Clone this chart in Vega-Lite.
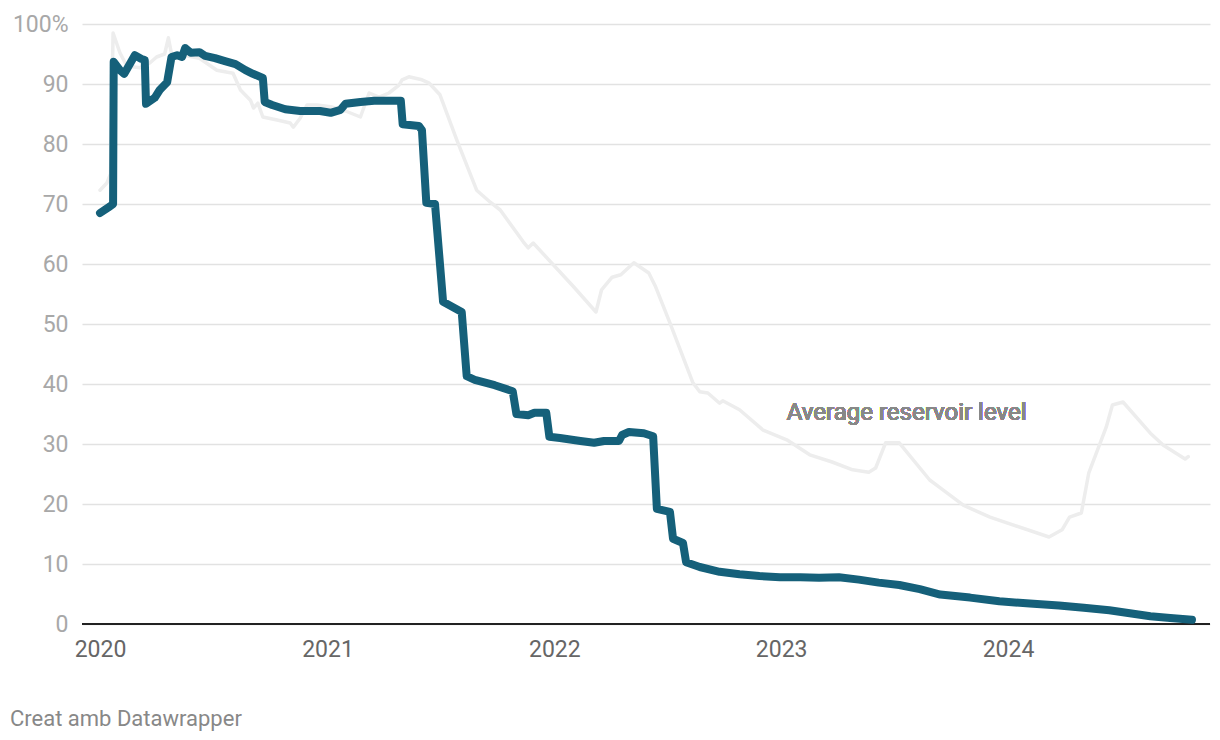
{
  "$schema": "https://vega.github.io/schema/vega-lite/v6.json",
  "width": 1128,
  "height": 600,
  "autosize": "none",
  "padding": {"left": 82, "top": 24, "right": 10, "bottom": 116},
  "background": "white",
  "config": {
    "font": "Roboto",
    "view": {"stroke": null},
    "axis": {"labelFont": "Roboto"}
  },
  "title": {
    "text": "Creat amb Datawrapper",
    "orient": "bottom",
    "anchor": "start",
    "frame": "group",
    "dx": -72,
    "offset": 48,
    "fontSize": 22,
    "fontWeight": "normal",
    "color": "#888888",
    "font": "Roboto"
  },
  "datasets": {
    "levels": [
      {"date": "2020-01-01", "value": 68.5, "series": "Reservoir"},
      {"date": "2020-01-17", "value": 69.6, "series": "Reservoir"},
      {"date": "2020-01-22", "value": 70.0, "series": "Reservoir"},
      {"date": "2020-01-23", "value": 93.7, "series": "Reservoir"},
      {"date": "2020-02-02", "value": 92.3, "series": "Reservoir"},
      {"date": "2020-02-09", "value": 91.7, "series": "Reservoir"},
      {"date": "2020-02-26", "value": 94.8, "series": "Reservoir"},
      {"date": "2020-03-07", "value": 94.2, "series": "Reservoir"},
      {"date": "2020-03-13", "value": 94.0, "series": "Reservoir"},
      {"date": "2020-03-15", "value": 86.7, "series": "Reservoir"},
      {"date": "2020-03-29", "value": 87.7, "series": "Reservoir"},
      {"date": "2020-04-06", "value": 89.0, "series": "Reservoir"},
      {"date": "2020-04-18", "value": 90.3, "series": "Reservoir"},
      {"date": "2020-04-25", "value": 94.5, "series": "Reservoir"},
      {"date": "2020-05-04", "value": 94.8, "series": "Reservoir"},
      {"date": "2020-05-12", "value": 94.5, "series": "Reservoir"},
      {"date": "2020-05-17", "value": 96.0, "series": "Reservoir"},
      {"date": "2020-05-26", "value": 95.2, "series": "Reservoir"},
      {"date": "2020-06-09", "value": 95.3, "series": "Reservoir"},
      {"date": "2020-06-18", "value": 94.7, "series": "Reservoir"},
      {"date": "2020-07-04", "value": 94.3, "series": "Reservoir"},
      {"date": "2020-07-20", "value": 93.8, "series": "Reservoir"},
      {"date": "2020-08-06", "value": 93.3, "series": "Reservoir"},
      {"date": "2020-08-22", "value": 92.3, "series": "Reservoir"},
      {"date": "2020-09-03", "value": 91.7, "series": "Reservoir"},
      {"date": "2020-09-19", "value": 91.0, "series": "Reservoir"},
      {"date": "2020-09-22", "value": 87.0, "series": "Reservoir"},
      {"date": "2020-10-04", "value": 86.5, "series": "Reservoir"},
      {"date": "2020-10-25", "value": 85.8, "series": "Reservoir"},
      {"date": "2020-11-18", "value": 85.5, "series": "Reservoir"},
      {"date": "2020-12-20", "value": 85.5, "series": "Reservoir"},
      {"date": "2021-01-06", "value": 85.2, "series": "Reservoir"},
      {"date": "2021-01-22", "value": 85.7, "series": "Reservoir"},
      {"date": "2021-01-30", "value": 86.7, "series": "Reservoir"},
      {"date": "2021-02-23", "value": 87.0, "series": "Reservoir"},
      {"date": "2021-03-17", "value": 87.2, "series": "Reservoir"},
      {"date": "2021-04-18", "value": 87.2, "series": "Reservoir"},
      {"date": "2021-04-29", "value": 87.2, "series": "Reservoir"},
      {"date": "2021-05-02", "value": 83.3, "series": "Reservoir"},
      {"date": "2021-05-28", "value": 83.0, "series": "Reservoir"},
      {"date": "2021-06-02", "value": 82.3, "series": "Reservoir"},
      {"date": "2021-06-09", "value": 70.2, "series": "Reservoir"},
      {"date": "2021-06-23", "value": 70.0, "series": "Reservoir"},
      {"date": "2021-07-06", "value": 53.7, "series": "Reservoir"},
      {"date": "2021-08-05", "value": 52.0, "series": "Reservoir"},
      {"date": "2021-08-13", "value": 41.3, "series": "Reservoir"},
      {"date": "2021-08-26", "value": 40.7, "series": "Reservoir"},
      {"date": "2021-09-27", "value": 39.8, "series": "Reservoir"},
      {"date": "2021-10-26", "value": 38.8, "series": "Reservoir"},
      {"date": "2021-11-01", "value": 35.0, "series": "Reservoir"},
      {"date": "2021-11-20", "value": 34.8, "series": "Reservoir"},
      {"date": "2021-11-30", "value": 35.2, "series": "Reservoir"},
      {"date": "2021-12-19", "value": 35.2, "series": "Reservoir"},
      {"date": "2021-12-24", "value": 31.2, "series": "Reservoir"},
      {"date": "2022-01-10", "value": 31.0, "series": "Reservoir"},
      {"date": "2022-02-12", "value": 30.5, "series": "Reservoir"},
      {"date": "2022-03-06", "value": 30.2, "series": "Reservoir"},
      {"date": "2022-03-22", "value": 30.5, "series": "Reservoir"},
      {"date": "2022-04-15", "value": 30.5, "series": "Reservoir"},
      {"date": "2022-04-20", "value": 31.5, "series": "Reservoir"},
      {"date": "2022-05-01", "value": 32.0, "series": "Reservoir"},
      {"date": "2022-05-25", "value": 31.8, "series": "Reservoir"},
      {"date": "2022-06-09", "value": 31.3, "series": "Reservoir"},
      {"date": "2022-06-15", "value": 19.2, "series": "Reservoir"},
      {"date": "2022-07-06", "value": 18.7, "series": "Reservoir"},
      {"date": "2022-07-11", "value": 14.2, "series": "Reservoir"},
      {"date": "2022-07-27", "value": 13.5, "series": "Reservoir"},
      {"date": "2022-08-01", "value": 10.3, "series": "Reservoir"},
      {"date": "2022-08-23", "value": 9.5, "series": "Reservoir"},
      {"date": "2022-09-24", "value": 8.7, "series": "Reservoir"},
      {"date": "2022-10-26", "value": 8.3, "series": "Reservoir"},
      {"date": "2022-11-27", "value": 8.0, "series": "Reservoir"},
      {"date": "2022-12-30", "value": 7.8, "series": "Reservoir"},
      {"date": "2023-02-01", "value": 7.8, "series": "Reservoir"},
      {"date": "2023-03-03", "value": 7.7, "series": "Reservoir"},
      {"date": "2023-04-04", "value": 7.8, "series": "Reservoir"},
      {"date": "2023-05-06", "value": 7.4, "series": "Reservoir"},
      {"date": "2023-06-07", "value": 6.9, "series": "Reservoir"},
      {"date": "2023-07-10", "value": 6.5, "series": "Reservoir"},
      {"date": "2023-08-12", "value": 5.8, "series": "Reservoir"},
      {"date": "2023-09-14", "value": 4.9, "series": "Reservoir"},
      {"date": "2023-11-01", "value": 4.4, "series": "Reservoir"},
      {"date": "2023-12-18", "value": 3.8, "series": "Reservoir"},
      {"date": "2024-02-05", "value": 3.4, "series": "Reservoir"},
      {"date": "2024-03-23", "value": 3.1, "series": "Reservoir"},
      {"date": "2024-05-02", "value": 2.7, "series": "Reservoir"},
      {"date": "2024-06-12", "value": 2.3, "series": "Reservoir"},
      {"date": "2024-07-15", "value": 1.8, "series": "Reservoir"},
      {"date": "2024-08-17", "value": 1.3, "series": "Reservoir"},
      {"date": "2024-09-18", "value": 1.0, "series": "Reservoir"},
      {"date": "2024-10-23", "value": 0.7, "series": "Reservoir"},

      {"date": "2020-01-01", "value": 72.3, "series": "Average"},
      {"date": "2020-01-12", "value": 73.5, "series": "Average"},
      {"date": "2020-01-18", "value": 75.0, "series": "Average"},
      {"date": "2020-01-22", "value": 98.5, "series": "Average"},
      {"date": "2020-02-02", "value": 95.2, "series": "Average"},
      {"date": "2020-02-13", "value": 93.0, "series": "Average"},
      {"date": "2020-03-05", "value": 92.7, "series": "Average"},
      {"date": "2020-03-21", "value": 93.5, "series": "Average"},
      {"date": "2020-04-01", "value": 94.5, "series": "Average"},
      {"date": "2020-04-14", "value": 95.0, "series": "Average"},
      {"date": "2020-04-20", "value": 97.7, "series": "Average"},
      {"date": "2020-04-26", "value": 94.5, "series": "Average"},
      {"date": "2020-05-15", "value": 94.8, "series": "Average"},
      {"date": "2020-06-09", "value": 94.3, "series": "Average"},
      {"date": "2020-07-07", "value": 92.3, "series": "Average"},
      {"date": "2020-08-02", "value": 91.8, "series": "Average"},
      {"date": "2020-08-14", "value": 89.0, "series": "Average"},
      {"date": "2020-08-30", "value": 87.3, "series": "Average"},
      {"date": "2020-09-04", "value": 86.0, "series": "Average"},
      {"date": "2020-09-11", "value": 86.8, "series": "Average"},
      {"date": "2020-09-19", "value": 84.5, "series": "Average"},
      {"date": "2020-10-12", "value": 84.0, "series": "Average"},
      {"date": "2020-11-02", "value": 83.5, "series": "Average"},
      {"date": "2020-11-07", "value": 82.8, "series": "Average"},
      {"date": "2020-11-18", "value": 84.3, "series": "Average"},
      {"date": "2020-11-29", "value": 86.5, "series": "Average"},
      {"date": "2020-12-15", "value": 86.5, "series": "Average"},
      {"date": "2021-01-06", "value": 86.2, "series": "Average"},
      {"date": "2021-01-30", "value": 85.5, "series": "Average"},
      {"date": "2021-02-23", "value": 84.5, "series": "Average"},
      {"date": "2021-03-09", "value": 88.5, "series": "Average"},
      {"date": "2021-03-25", "value": 87.8, "series": "Average"},
      {"date": "2021-04-10", "value": 88.5, "series": "Average"},
      {"date": "2021-04-26", "value": 89.8, "series": "Average"},
      {"date": "2021-05-01", "value": 90.7, "series": "Average"},
      {"date": "2021-05-12", "value": 91.2, "series": "Average"},
      {"date": "2021-06-02", "value": 90.7, "series": "Average"},
      {"date": "2021-06-13", "value": 90.2, "series": "Average"},
      {"date": "2021-07-01", "value": 88.2, "series": "Average"},
      {"date": "2021-07-28", "value": 80.7, "series": "Average"},
      {"date": "2021-08-29", "value": 72.3, "series": "Average"},
      {"date": "2021-09-20", "value": 70.3, "series": "Average"},
      {"date": "2021-10-06", "value": 69.0, "series": "Average"},
      {"date": "2021-11-12", "value": 63.7, "series": "Average"},
      {"date": "2021-11-20", "value": 62.7, "series": "Average"},
      {"date": "2021-11-28", "value": 63.5, "series": "Average"},
      {"date": "2022-02-01", "value": 56.2, "series": "Average"},
      {"date": "2022-03-09", "value": 52.0, "series": "Average"},
      {"date": "2022-03-18", "value": 55.7, "series": "Average"},
      {"date": "2022-04-04", "value": 57.8, "series": "Average"},
      {"date": "2022-04-18", "value": 58.2, "series": "Average"},
      {"date": "2022-05-09", "value": 60.2, "series": "Average"},
      {"date": "2022-06-02", "value": 58.5, "series": "Average"},
      {"date": "2022-06-13", "value": 56.2, "series": "Average"},
      {"date": "2022-07-06", "value": 50.2, "series": "Average"},
      {"date": "2022-08-12", "value": 40.2, "series": "Average"},
      {"date": "2022-08-23", "value": 38.7, "series": "Average"},
      {"date": "2022-09-05", "value": 38.5, "series": "Average"},
      {"date": "2022-09-24", "value": 36.8, "series": "Average"},
      {"date": "2022-09-29", "value": 37.2, "series": "Average"},
      {"date": "2022-10-26", "value": 35.7, "series": "Average"},
      {"date": "2022-12-03", "value": 32.3, "series": "Average"},
      {"date": "2023-01-10", "value": 30.7, "series": "Average"},
      {"date": "2023-02-16", "value": 28.2, "series": "Average"},
      {"date": "2023-03-24", "value": 27.0, "series": "Average"},
      {"date": "2023-04-26", "value": 25.7, "series": "Average"},
      {"date": "2023-05-22", "value": 25.3, "series": "Average"},
      {"date": "2023-06-02", "value": 26.0, "series": "Average"},
      {"date": "2023-06-18", "value": 30.2, "series": "Average"},
      {"date": "2023-07-10", "value": 30.2, "series": "Average"},
      {"date": "2023-08-28", "value": 24.0, "series": "Average"},
      {"date": "2023-09-14", "value": 22.7, "series": "Average"},
      {"date": "2023-10-21", "value": 19.8, "series": "Average"},
      {"date": "2023-12-03", "value": 17.8, "series": "Average"},
      {"date": "2024-03-07", "value": 14.5, "series": "Average"},
      {"date": "2024-03-28", "value": 15.7, "series": "Average"},
      {"date": "2024-04-09", "value": 17.8, "series": "Average"},
      {"date": "2024-04-28", "value": 18.5, "series": "Average"},
      {"date": "2024-05-10", "value": 25.2, "series": "Average"},
      {"date": "2024-06-07", "value": 32.8, "series": "Average"},
      {"date": "2024-06-17", "value": 36.5, "series": "Average"},
      {"date": "2024-07-04", "value": 37.0, "series": "Average"},
      {"date": "2024-08-17", "value": 31.8, "series": "Average"},
      {"date": "2024-09-07", "value": 29.8, "series": "Average"},
      {"date": "2024-10-12", "value": 27.5, "series": "Average"},
      {"date": "2024-10-17", "value": 27.9, "series": "Average"}
    ]
  },
  "data": {"name": "levels"},
  "encoding": {
    "x": {
      "field": "date",
      "type": "temporal",
      "scale": {"domain": ["2019-12-03", "2024-11-21"]},
      "axis": {
        "title": null,
        "format": "%Y",
        "tickCount": "year",
        "grid": false,
        "domain": false,
        "ticks": false,
        "labelFontSize": 23,
        "labelColor": "#666666",
        "labelPadding": 14
      }
    },
    "y": {
      "field": "value",
      "type": "quantitative",
      "scale": {"domain": [0, 100], "nice": false},
      "axis": {
        "title": null,
        "values": [0, 10, 20, 30, 40, 50, 60, 70, 80, 90, 100],
        "labelExpr": "datum.value == 100 ? '100%' : datum.label",
        "grid": true,
        "gridColor": "#e2e2e2",
        "gridWidth": 1.5,
        "domain": false,
        "ticks": false,
        "labelFontSize": 23,
        "labelColor": "#a8a8a8",
        "labelPadding": 14
      }
    }
  },
  "layer": [
    {
      "transform": [{"filter": "datum.series == 'Average'"}],
      "mark": {"type": "line", "color": "#ededed", "strokeWidth": 3.5, "strokeJoin": "round", "strokeCap": "round"}
    },
    {
      "mark": {"type": "rule", "color": "#222222", "strokeWidth": 2},
      "encoding": {"y": {"datum": 0}, "x": null}
    },
    {
      "transform": [{"filter": "datum.series == 'Reservoir'"}],
      "mark": {"type": "line", "color": "#15607a", "strokeWidth": 8, "strokeJoin": "round", "strokeCap": "round"}
    },
    {
      "mark": {"type": "text", "text": "Average reservoir level", "align": "left", "baseline": "middle", "fontSize": 24, "color": "#888888", "font": "Roboto"},
      "encoding": {"x": {"datum": {"year": 2023, "month": 1, "date": 10}, "type": "temporal"}, "y": {"datum": 35.2}}
    }
  ]
}
